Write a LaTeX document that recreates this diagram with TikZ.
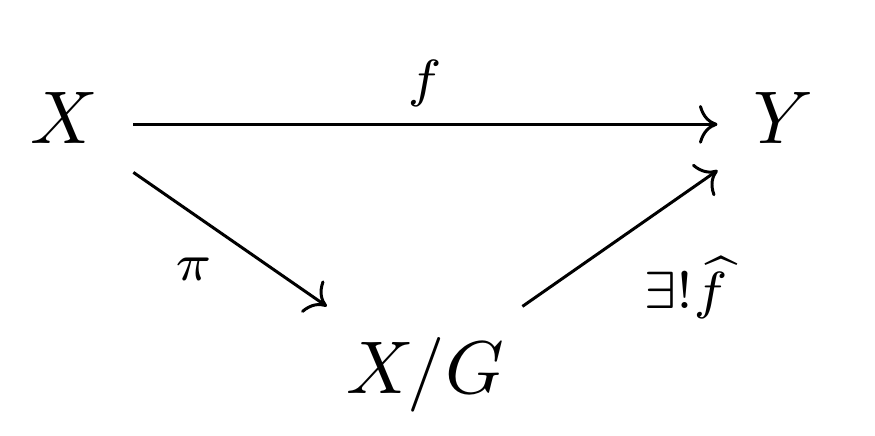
\documentclass[tikz,border=0pt]{standalone}
\usepackage{amsmath,amssymb}
\usetikzlibrary{cd}
\begin{document}
\begin{tikzpicture}[x=0.13389pt,y=-0.13389pt,
  obj/.style={inner sep=0pt,text height=5pt,text depth=0pt,anchor=base},
  lbl/.style={inner sep=0pt,anchor=base,font=\scriptsize},
  arr/.style={line width=0.4pt,-cm to}]
\useasboundingbox (0,0) rectangle (875,435);
\node[obj] (X) at (64,143) {$X$};
\node[obj] (Y) at (783.5,143) {$Y$};
\node[obj] (XG) at (425,393) {$X/G$};
\draw[arr,shorten <=9.24pt,shorten >=8.84pt] (X.center) -- (Y.center);
\draw[arr,shorten <=11.3pt,shorten >=16.0pt] (X.center) -- (XG.center);
\draw[arr,shorten <=15.9pt,shorten >=10.75pt] (XG.center) -- (Y.center);
\node[lbl] (lf) at (425,96) {$f$};
\node[lbl] (lpi) at (194,280) {$\pi$};
\node[lbl] (lfh) at (686,308) {$\exists!\widehat{f}$};
\end{tikzpicture}
\end{document}
